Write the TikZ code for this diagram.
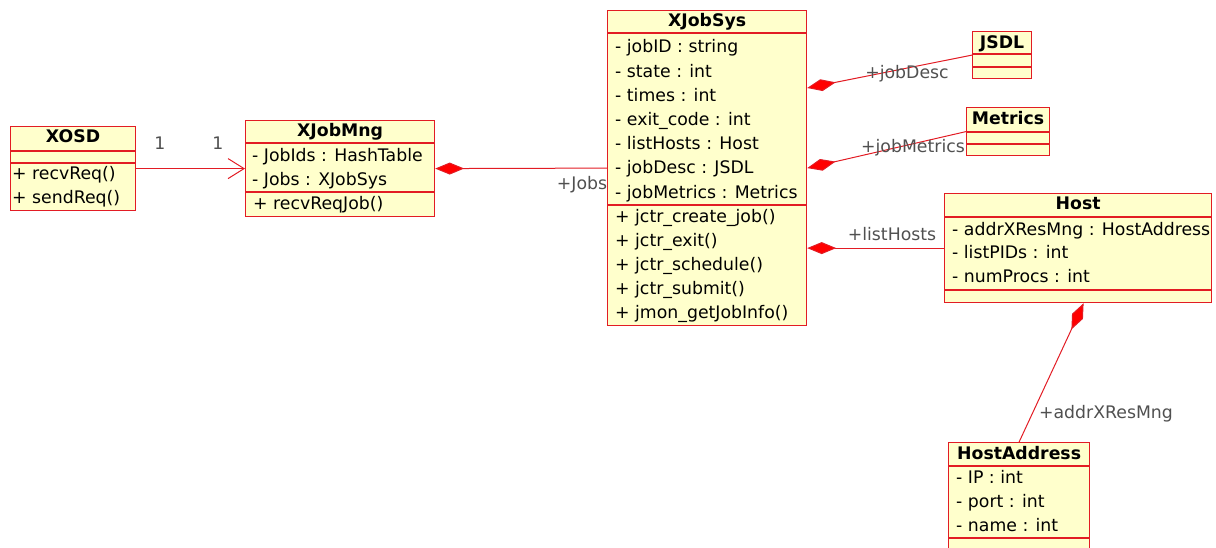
\documentclass[tikz,border=0pt]{standalone}
\usepackage{fontspec}
\setmainfont{DejaVu Sans}
\usetikzlibrary{arrows.meta}

\definecolor{umlred}{RGB}{226,28,36}
\definecolor{umlfill}{RGB}{255,255,204}
\definecolor{rolegray}{RGB}{80,80,80}

\begin{document}
\begin{tikzpicture}[x=1pt,y=-1pt,
    classbox/.style={draw=umlred, fill=umlfill, line width=1.2pt, inner sep=0pt, anchor=north west},
    sepline/.style={draw=umlred, line width=1.2pt},
    classname/.style={font=\fontsize{17.3}{20}\selectfont\bfseries, anchor=base, inner sep=0pt},
    member/.style={font=\fontsize{17.3}{20}\selectfont, anchor=base west, inner sep=0pt},
    role/.style={font=\fontsize{17.3}{20}\selectfont, text=rolegray, inner sep=0pt},
    comp/.style={draw=umlred, line width=1pt, {Diamond[length=29pt,width=12pt,fill=red]}-},
    assoc/.style={draw=umlred, line width=1pt, -{Straight Barb[length=16pt,width=20pt]}}]

\useasboundingbox (0,0) rectangle (1216,548);

% XOSD
\node[classbox, minimum width=125pt, minimum height=84pt] (osd) at (10,126) {};
\node[classname] (osdT) at (osd.north |- 0,143) {XOSD};
\draw[sepline] (osd.west |- 0,151) -- (osd.east |- 0,151);
\draw[sepline] (osd.west |- 0,163) -- (osd.east |- 0,163);
\node[member] (osdM1) at (12,180) {+ recvReq()};
\node[member] (osdM2) at (12,204) {+ sendReq()};

% XJobMng
\node[classbox, minimum width=189pt, minimum height=96pt] (mng) at (245,120) {};
\node[classname] (mngT) at (mng.north |- 0,137) {XJobMng};
\draw[sepline] (mng.west |- 0,143) -- (mng.east |- 0,143);
\draw[sepline] (mng.west |- 0,192) -- (mng.east |- 0,192);
\node[member] (mngA1) at (252,162) {- JobIds : HashTable};
\node[member] (mngA2) at (252,186) {- Jobs : XJobSys};
\node[member] (mngM1) at (253,210) {+ recvReqJob()};

% XJobSys
\node[classbox, minimum width=199pt, minimum height=315pt] (sys) at (607,10) {};
\node[classname] (sysT) at (sys.north |- 0,27) {XJobSys};
\draw[sepline] (sys.west |- 0,33) -- (sys.east |- 0,33);
\draw[sepline] (sys.west |- 0,205) -- (sys.east |- 0,205);
\foreach \t [count=\i] in {jobID : string, state : int, times : int, exit\_code : int,
    listHosts : Host, jobDesc : JSDL, jobMetrics : Metrics}
    \node[member] (sysA\i) at (615,28.8+24.2*\i) {- \t};
\foreach \t [count=\i] in {jctr\_create\_job(), jctr\_exit(), jctr\_schedule(),
    jctr\_submit(), jmon\_getJobInfo()}
    \node[member] (sysM\i) at (615,199.2+23.8*\i) {+ \t};

% JSDL
\node[classbox, minimum width=59pt, minimum height=47pt] (jsdl) at (972,31) {};
\node[classname] (jsdlT) at (jsdl.north |- 0,49) {JSDL};
\draw[sepline] (jsdl.west |- 0,54) -- (jsdl.east |- 0,54);
\draw[sepline] (jsdl.west |- 0,67) -- (jsdl.east |- 0,67);

% Metrics
\node[classbox, minimum width=83pt, minimum height=48pt] (metrics) at (966,107) {};
\node[classname] (metricsT) at (metrics.north |- 0,125) {Metrics};
\draw[sepline] (metrics.west |- 0,132) -- (metrics.east |- 0,132);
\draw[sepline] (metrics.west |- 0,144) -- (metrics.east |- 0,144);

% Host
\node[classbox, minimum width=267pt, minimum height=109pt] (host) at (944,193) {};
\node[classname] (hostT) at (host.north |- 0,210) {Host};
\draw[sepline] (host.west |- 0,217) -- (host.east |- 0,217);
\draw[sepline] (host.west |- 0,290) -- (host.east |- 0,290);
\node[member] (hostA1) at (952,236) {- addrXResMng : HostAddress};
\node[member] (hostA2) at (952,259) {- listPIDs : int};
\node[member] (hostA3) at (952,283) {- numProcs : int};

% HostAddress
\node[classbox, minimum width=141pt, minimum height=112pt] (haddr) at (948,442) {};
\node[classname] (haddrT) at (haddr.north |- 0,459) {HostAddress};
\draw[sepline] (haddr.west |- 0,466) -- (haddr.east |- 0,466);
\draw[sepline] (haddr.west |- 0,538) -- (haddr.east |- 0,538);
\node[member] (haddrA1) at (956,483) {- IP : int};
\node[member] (haddrA2) at (956,507) {- port : int};
\node[member] (haddrA3) at (956,531) {- name : int};

% connectors
\coordinate (sysJ) at (sys.east |- 0,88);
\coordinate (sysH) at (sys.east |- host.west);
\coordinate (hostB) at ([xshift=5.5pt]host.south);

\draw[assoc] (osd.east) -- (mng.west);
\draw[comp] (mng.east) -- (sys.west);
\draw[comp] (sysJ) -- (jsdl.west);
\draw[comp] (sys.east) -- (metrics.west);
\draw[comp] (sysH) -- (host.west);
\draw[comp] (hostB) -- (haddr.north);

% role names
\node[role] (mulA) at (160,143) {1};
\node[role] (mulB) at (218,143) {1};
\node[role] (rJobs) at (582,185) {+Jobs};
\node[role] (rDesc) at (907,74) {+jobDesc};
\node[role] (rMetrics) at (913,148) {+jobMetrics};
\node[role] (rHosts) at (892,234) {+listHosts};
\node[role] (rAddr) at (1106,414) {+addrXResMng};

\end{tikzpicture}
\end{document}
